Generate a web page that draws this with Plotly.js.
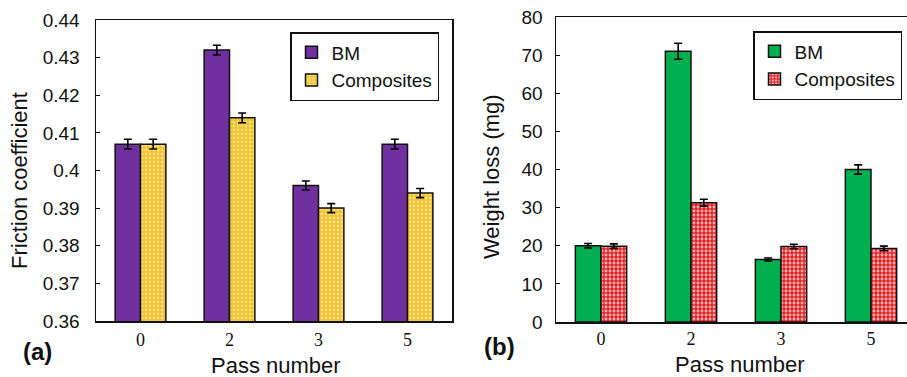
<!DOCTYPE html>
<html><head><meta charset="utf-8">
<script src="https://cdn.plot.ly/plotly-3.0.1.min.js"></script>
<style>html,body{margin:0;padding:0;background:#fff;}#chart{width:907px;height:377px;}</style>
</head><body><div id="chart"></div>
<script>
const passNumbers = ['0', '2', '3', '5'];
const frictionBM = [0.407, 0.432, 0.396, 0.407];
const frictionBMErr = [0.0013, 0.0013, 0.0012, 0.0013];
const frictionComp = [0.407, 0.414, 0.390, 0.394];
const frictionCompErr = [0.0013, 0.0013, 0.0012, 0.0012];
const weightBM = [20, 71, 16.4, 40];
const weightBMErr = [0.6, 2.1, 0.4, 1.2];
const weightComp = [19.9, 31.3, 19.8, 19.3];
const weightCompErr = [0.6, 0.9, 0.6, 0.6];
const seriesNames = ['BM', 'Composites'];

const errStyle = (arr) => ({type: 'data', array: arr, visible: true, color: '#000', thickness: 1.6, width: 4});
const outline = {color: '#111', width: 1.5};

const traces = [
  {type: 'bar', x: passNumbers, y: frictionBM, name: seriesNames[0], xaxis: 'x', yaxis: 'y', legend: 'legend', legendgroup: 'a1',
   marker: {color: '#7030a0', line: outline}, error_y: errStyle(frictionBMErr)},
  {type: 'bar', x: passNumbers, y: frictionComp, name: seriesNames[1], xaxis: 'x', yaxis: 'y', legend: 'legend', legendgroup: 'a2',
   marker: {color: '#f2c12e', line: outline, pattern: {shape: '.', bgcolor: '#f2c12e', fgcolor: '#fbe07a', size: 4, solidity: 0.4}}, error_y: errStyle(frictionCompErr)},
  {type: 'bar', x: passNumbers, y: weightBM, name: seriesNames[0], xaxis: 'x2', yaxis: 'y2', legend: 'legend2', legendgroup: 'b1',
   marker: {color: '#00b050', line: outline}, error_y: errStyle(weightBMErr)},
  {type: 'bar', x: passNumbers, y: weightComp, name: seriesNames[1], xaxis: 'x2', yaxis: 'y2', legend: 'legend2', legendgroup: 'b2',
   marker: {color: '#e3262a', line: outline, pattern: {shape: '.', bgcolor: '#e3262a', fgcolor: '#f7b0b0', size: 4, solidity: 0.4}}, error_y: errStyle(weightCompErr)}
];

const W = 907, H = 377;
const tickFontY = {family: 'Liberation Sans, Arial, sans-serif', size: 19, color: '#111'};
const tickFontX = {family: 'Liberation Serif, Times New Roman, serif', size: 18, color: '#111'};
const titleFont = {family: 'Liberation Sans, Arial, sans-serif', size: 22, color: '#111'};
const legendFont = {family: 'Liberation Sans, Arial, sans-serif', size: 19, color: '#111'};
const panelFont = {family: 'Liberation Sans, Arial, sans-serif', size: 24, color: '#111'};

const layout = {
  width: W, height: H,
  margin: {l: 0, r: 0, t: 0, b: 0},
  paper_bgcolor: '#fff', plot_bgcolor: '#fff',
  barmode: 'group', bargap: 0.43, bargroupgap: 0,
  showlegend: true,
  xaxis: {domain: [96 / W, 452 / W], anchor: 'y', type: 'category', range: [-0.5, 3.5],
    showline: true, linecolor: '#111', linewidth: 1.5, mirror: true, ticks: '', showgrid: false,
    tickfont: tickFontX, ticklabelstandoff: 2, zeroline: false},
  yaxis: {domain: [1 - 321 / H, 1 - 20 / H], anchor: 'x', range: [0.36, 0.44], dtick: 0.01, tick0: 0.36,
    showline: true, linecolor: '#111', linewidth: 1.5, mirror: true, ticks: 'inside', ticklen: 4, tickcolor: '#111', tickwidth: 1.2,
    showgrid: false, zeroline: false, tickfont: tickFontY, ticklabelstandoff: 11},
  xaxis2: {domain: [556 / W, 1], anchor: 'y2', type: 'category', range: [-0.5, 3.4],
    showline: true, linecolor: '#111', linewidth: 1.5, mirror: true, ticks: '', showgrid: false,
    tickfont: tickFontX, ticklabelstandoff: 0, zeroline: false},
  yaxis2: {domain: [1 - 322 / H, 1 - 17 / H], anchor: 'x2', range: [0, 80], dtick: 10,
    showline: true, linecolor: '#111', linewidth: 1.5, mirror: false, ticks: 'inside', ticklen: 4, tickcolor: '#111', tickwidth: 1.2,
    showgrid: false, zeroline: false, tickfont: tickFontY, ticklabelstandoff: 8},
  legend: {x: 439 / W, y: 1 - 32 / H, xanchor: 'right', yanchor: 'top', bgcolor: '#fff', bordercolor: '#111', borderwidth: 1.5,
    font: legendFont, traceorder: 'grouped', tracegroupgap: 0, itemwidth: 30},
  legend2: {x: 902 / W, y: 1 - 31 / H, xanchor: 'right', yanchor: 'top', bgcolor: '#fff', bordercolor: '#111', borderwidth: 1.5,
    font: legendFont, traceorder: 'grouped', tracegroupgap: 0, itemwidth: 30},
  annotations: [
    {text: 'Friction coefficient', textangle: -90, xref: 'paper', yref: 'paper', x: 20 / W, y: 1 - 181 / H, showarrow: false, font: titleFont, xanchor: 'center', yanchor: 'middle'},
    {text: 'Pass number', xref: 'paper', yref: 'paper', x: 276 / W, y: 1 - 365 / H, showarrow: false, font: titleFont, xanchor: 'center', yanchor: 'middle'},
    {text: '<b>(a)</b>', xref: 'paper', yref: 'paper', x: 37 / W, y: 1 - 351 / H, showarrow: false, font: panelFont, xanchor: 'center', yanchor: 'middle'},
    {text: 'Weight loss (mg)', textangle: -90, xref: 'paper', yref: 'paper', x: 492 / W, y: 1 - 177 / H, showarrow: false, font: titleFont, xanchor: 'center', yanchor: 'middle'},
    {text: 'Pass number', xref: 'paper', yref: 'paper', x: 740 / W, y: 1 - 364 / H, showarrow: false, font: titleFont, xanchor: 'center', yanchor: 'middle'},
    {text: '<b>(b)</b>', xref: 'paper', yref: 'paper', x: 499 / W, y: 1 - 346 / H, showarrow: false, font: panelFont, xanchor: 'center', yanchor: 'middle'}
  ]
};

Plotly.newPlot('chart', traces, layout, {displayModeBar: false, staticPlot: true});
</script></body></html>
